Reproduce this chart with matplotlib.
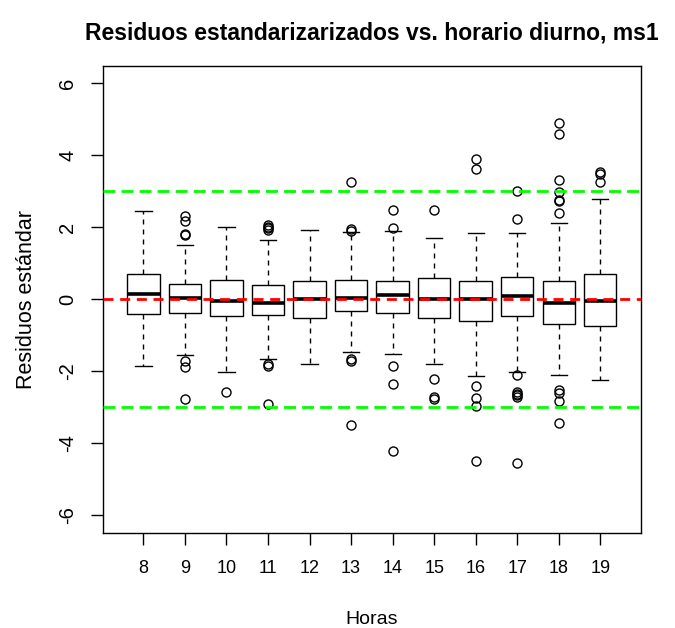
import matplotlib
matplotlib.use("Agg")
import matplotlib.pyplot as plt

plt.rcParams['font.family'] = ['Liberation Sans', 'DejaVu Sans']

hours = ["8", "9", "10", "11", "12", "13", "14", "15", "16", "17", "18", "19"]
medians = [0.14, 0.05, -0.05, -0.09, 0.00, 0.05, 0.11, 0.00, 0.00, 0.08, -0.09, -0.04]
q1 = [-0.40, -0.37, -0.47, -0.43, -0.51, -0.31, -0.37, -0.52, -0.59, -0.45, -0.69, -0.75]
q3 = [0.71, 0.42, 0.55, 0.41, 0.51, 0.55, 0.51, 0.58, 0.51, 0.62, 0.51, 0.71]
whisker_low = [-1.86, -1.55, -2.02, -1.66, -1.79, -1.45, -1.51, -1.79, -2.14, -2.02, -2.10, -2.23]
whisker_high = [2.45, 1.52, 2.01, 1.66, 1.93, 1.86, 1.90, 1.69, 1.85, 1.85, 2.13, 2.80]
outliers = [
    [],
    [2.31, 2.17, 1.82, 1.78, -1.72, -1.88, -2.76],
    [-2.58],
    [2.07, 2.02, 1.97, 1.93, -1.79, -1.86, -2.90],
    [],
    [3.25, 1.94, 1.90, -1.65, -1.70, -3.48],
    [2.48, 1.98, -1.85, -2.34, -4.21],
    [2.48, -2.21, -2.72, -2.78],
    [3.89, 3.62, -2.41, -2.74, -2.96, -4.48],
    [3.00, 2.24, -2.09, -2.58, -2.62, -2.66, -2.70, -4.54],
    [4.90, 4.59, 3.32, 2.97, 2.77, 2.72, 2.40, -2.53, -2.61, -2.83, -3.44],
    [3.54, 3.47, 3.25],
]
ref_zero = 0.0
ref_limits = [3.0, -3.0]

fig = plt.figure(figsize=(6.75, 6.28), dpi=100)
ax = fig.add_axes([102.7 / 675, 1 - 532.7 / 628, (641 - 102.7) / 675, (532.7 - 66) / 628])

stats = []
for i in range(len(hours)):
    stats.append(dict(med=medians[i], q1=q1[i], q3=q3[i],
                      whislo=whisker_low[i], whishi=whisker_high[i],
                      fliers=outliers[i], label=hours[i]))

positions = list(range(1, len(hours) + 1))
ax.bxp(stats, positions=positions, widths=0.78, patch_artist=True,
       boxprops=dict(facecolor='white', edgecolor='black', linewidth=1.0),
       medianprops=dict(color='black', linewidth=2.6, solid_capstyle='butt'),
       whiskerprops=dict(color='black', linewidth=1.0, linestyle=(0, (3.6, 3.6))),
       capprops=dict(color='black', linewidth=1.0),
       capwidths=0.39,
       flierprops=dict(marker='o', markerfacecolor='none', markeredgecolor='black',
                       markersize=6.5, markeredgewidth=1.0, linestyle='none'))

ax.axhline(ref_zero, color='#FF0000', linewidth=2.0, dashes=(3.6, 2.4), zorder=5)
for v in ref_limits:
    ax.axhline(v, color='#00FF00', linewidth=2.0, dashes=(4.3, 2.2), zorder=5)

ax.set_xlim(0.02, 12.98)
ax.set_ylim(-6.48, 6.48)
ax.set_xticks(positions)
ax.set_xticklabels(hours)
ax.set_yticks([-6, -4, -2, 0, 2, 4, 6])
ax.set_yticklabels(["-6", "-4", "-2", "0", "2", "4", "6"], rotation=90, va='center')
ax.tick_params(axis='both', direction='out', length=8.4, width=1.0, pad=11)
ax.tick_params(axis='x', labelsize=13)
ax.tick_params(axis='y', labelsize=14.5, pad=10)
for s in ax.spines.values():
    s.set_linewidth(1.0)
    s.set_color('black')

fig.text(27 / 675, 1 - 299 / 628, "Residuos estándar", rotation=90, ha='center', va='center', fontsize=15.5)
fig.text(372 / 675, 1 - 619 / 628, "Horas", ha='center', va='center', fontsize=14)
fig.text(372 / 675, 1 - 33 / 628, "Residuos estandarizarizados vs. horario diurno, ms1",
         ha='center', va='center', fontsize=16.5, fontweight='bold')

fig.savefig("out.png", dpi=100)
